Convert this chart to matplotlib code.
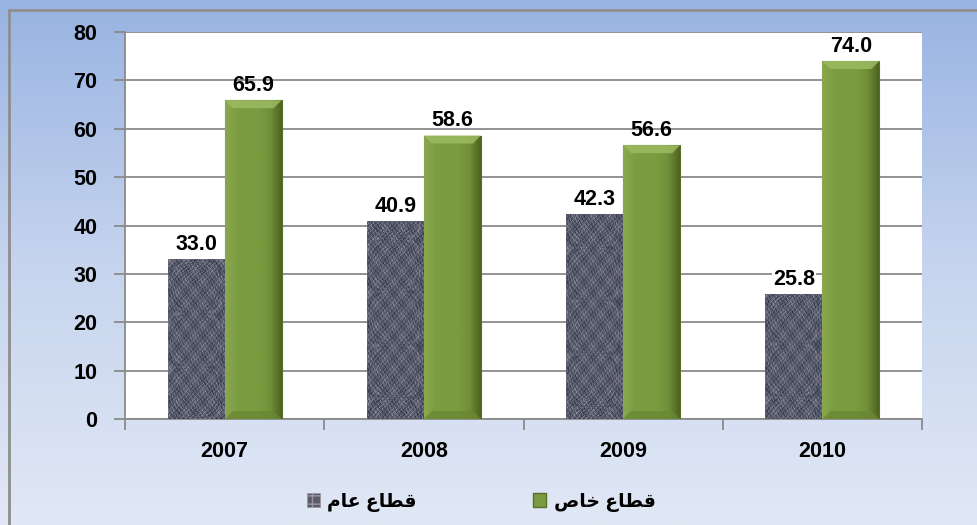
import numpy as np
import matplotlib
matplotlib.use("Agg")
import matplotlib.pyplot as plt
from matplotlib.patches import Rectangle, Patch, Polygon
from matplotlib.colors import LinearSegmentedColormap

# ---------------- data ----------------
years = ["2007", "2008", "2009", "2010"]
public_sector = [33.0, 40.9, 42.3, 25.8]     # قطاع عام
private_sector = [65.9, 58.6, 56.6, 74.0]    # قطاع خاص
# Arabic labels (pre-shaped presentation forms in visual order for LTR renderer)
label_public = "\uFEE1\uFE8E\uFECB \uFEC9\uFE8E\uFEC4\uFED7"    # قطاع عام
label_private = "\uFEB9\uFE8E\uFEA7 \uFEC9\uFE8E\uFEC4\uFED7"   # قطاع خاص
yticks = [0, 10, 20, 30, 40, 50, 60, 70, 80]

FONT = ["Liberation Sans", "DejaVu Sans"]
plt.rcParams["font.family"] = FONT
plt.rcParams["font.weight"] = "bold"
FS = 15.5

W, H = 977, 525
fig = plt.figure(figsize=(W / 100, H / 100), dpi=100)

# background gradient
bg = fig.add_axes([0, 0, 1, 1], zorder=-10)
grad = np.linspace(0, 1, 256).reshape(-1, 1)
bgcmap = LinearSegmentedColormap.from_list("bg", ["#98b3e2", "#c6d4ee", "#e1e8f5"])
bg.imshow(grad, aspect="auto", cmap=bgcmap, extent=[0, 1, 0, 1], origin="upper")
bg.set_xlim(0, 1); bg.set_ylim(0, 1)
bg.axis("off")
bg.add_patch(Rectangle((9 / W, -0.1), 1.2, (H - 10) / H + 0.1, fill=False,
                       edgecolor="#8e8e8e", lw=2, transform=bg.transAxes))

ax = fig.add_axes([125 / W, (H - 419) / H, (922 - 125) / W, (419 - 32) / H])
ax.set_facecolor("white")

x = np.arange(len(years))
w = 0.286
px_per_unit_y = (419 - 32) / 80.0
px_per_unit_x = (922 - 125) / 4.0

bars_pub = ax.bar(x - w / 2, public_sector, w, color="#585b6b", zorder=3, linewidth=0)
bars_pri = ax.bar(x + w / 2, private_sector, w, color="#7b9b40", zorder=3,
                  edgecolor="#56702a", linewidth=0.8)

# burlap-like texture on public-sector bars (deterministic pattern)
tex_cmap = LinearSegmentedColormap.from_list(
    "tex", ["#262c3d", "#3e4558", "#5e6273", "#8c8594", "#b7a7b2"])
for k, b in enumerate(bars_pub):
    hpx = max(int(b.get_height() * px_per_unit_y), 2)
    yy, xx = np.mgrid[0:hpx, 0:57].astype(float)
    yy += 37 * k
    t = (0.45
         + 0.18 * np.sin(xx * 2 * np.pi / 4.7) * np.sin(yy * 2 * np.pi / 5.3)
         + 0.15 * np.sin(xx * 1.93 + yy * 0.71) * np.cos(yy * 1.37 - xx * 0.43)
         + 0.10 * np.sin(xx * 0.37 + 1.3) * np.cos(yy * 0.29)
         + 0.12 * np.sin(xx * 3.1 - yy * 2.3) * np.sin(yy * 0.83 + xx * 0.17)
         + 0.08 * np.sin(xx * 0.91 * yy * 0.13 + 0.7))
    im = ax.imshow(t, cmap=tex_cmap, vmin=0, vmax=1, aspect="auto",
                   extent=[b.get_x(), b.get_x() + b.get_width(), 0, b.get_height()],
                   zorder=3.5, interpolation="bilinear", origin="upper")
    im.set_clip_path(b)

# green bevel shading
green_cmap = LinearSegmentedColormap.from_list(
    "gr", ["#8aa94e", "#7d9d42", "#7b9b40", "#7b9b40", "#728f39", "#4e6420"])
for b in bars_pri:
    prof = np.linspace(0, 1, 60).reshape(1, -1)
    im = ax.imshow(prof, cmap=green_cmap, vmin=0, vmax=1, aspect="auto",
                   extent=[b.get_x(), b.get_x() + b.get_width(), 0, b.get_height()],
                   zorder=3.5, interpolation="bilinear")
    im.set_clip_path(b)
    top = b.get_height()
    x0, x1 = b.get_x(), b.get_x() + b.get_width()
    hb = 8 / px_per_unit_y
    db = 8 / px_per_unit_x
    ax.add_patch(Polygon([(x0, top), (x1, top), (x1 - db, top - hb), (x0 + db, top - hb)],
                         closed=True, facecolor="#9dbb62", edgecolor="none",
                         zorder=3.6, alpha=0.85))
    ax.add_patch(Polygon([(x0, 0), (x1, 0), (x1 - db, hb), (x0 + db, hb)],
                         closed=True, facecolor="#6a8834", edgecolor="none",
                         zorder=3.6, alpha=0.8))

# value labels
for xi, v in zip(x - w / 2, public_sector):
    ax.text(xi, v + 0.9, f"{v:.1f}", ha="center", va="bottom", fontsize=FS,
            fontweight="bold", color="black", zorder=5,
            bbox=dict(facecolor="white", edgecolor="none", pad=0.5))
for xi, v in zip(x + w / 2, private_sector):
    ax.text(xi, v + 0.9, f"{v:.1f}", ha="center", va="bottom", fontsize=FS,
            fontweight="bold", color="black", zorder=5)

ax.set_xlim(-0.5, len(years) - 0.5)
ax.set_ylim(0, 80)
ax.set_yticks(yticks)
ax.set_yticklabels([str(t) for t in yticks], fontsize=FS, fontweight="bold")
ax.yaxis.grid(True, color="#8a8a8a", lw=1.3, zorder=1)
ax.set_axisbelow(True)

ax.set_xticks(x)
ax.set_xticklabels(years, fontsize=FS, fontweight="bold")
ax.tick_params(axis="x", which="major", length=0, pad=16)
ax.set_xticks(np.arange(-0.5, len(years)), minor=True)
ax.tick_params(axis="x", which="minor", length=8, color="#8a8a8a", width=1.3)
ax.tick_params(axis="y", length=8, color="#8a8a8a", width=1.3, pad=12)

for s in ["top", "right"]:
    ax.spines[s].set_visible(False)
for s in ["left", "bottom"]:
    ax.spines[s].set_color("#8a8a8a")
    ax.spines[s].set_linewidth(1.3)

handles = [Patch(facecolor="#585b6b", edgecolor="#a093a0", hatch="++", lw=0.5),
           Patch(facecolor="#7b9b40", edgecolor="#56702a")]
leg = fig.legend(handles, [label_public, label_private], loc="center",
                 bbox_to_anchor=(481 / W, 1 - 502 / H), ncol=2, frameon=False,
                 prop={"family": FONT, "weight": "bold", "size": 13.5},
                 handlelength=0.7, handleheight=0.7, handletextpad=0.4,
                 columnspacing=6.2)

fig.savefig("out.png", dpi=100)
